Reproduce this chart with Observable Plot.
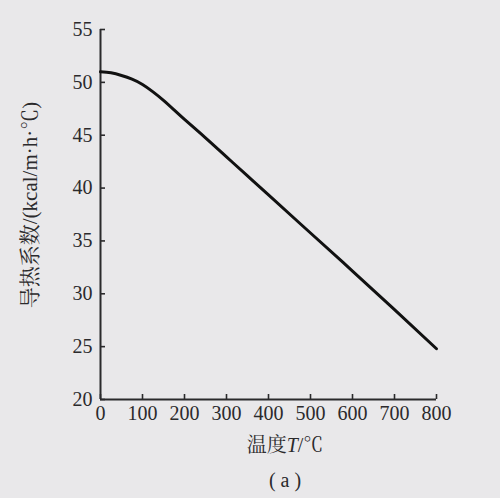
<!DOCTYPE html>
<html><head><meta charset="utf-8">
<script src="https://cdn.jsdelivr.net/npm/d3@7"></script>
<script src="https://cdn.jsdelivr.net/npm/@observablehq/plot@0.6"></script>
<style>
html,body{margin:0;padding:0;background:#e9e8ea;}
#chart{width:500px;height:498px;}
#chart svg text{font-family:"Liberation Serif","Noto Serif CJK SC","Noto Sans CJK SC",serif !important;}
</style>
</head><body><div id="chart"></div>
<script>
const temperature = [0, 25, 50, 75, 100, 125, 150, 175, 200, 250, 300, 350, 400, 500, 600, 700, 800];
const conductivity = [51.0, 50.9, 50.65, 50.3, 49.8, 49.1, 48.3, 47.4, 46.5, 44.75, 42.95, 41.15, 39.35, 35.75, 32.15, 28.5, 24.8];
const xTicks = [0, 100, 200, 300, 400, 500, 600, 700, 800];
const yTicks = [20, 25, 30, 35, 40, 45, 50, 55];
const yLabel = "导热系数/(kcal/m·h·℃)";
const xLabelMain = "温度";
const xLabelVar = "T";
const xLabelUnit = "/℃";
const caption = "( a )";

const data = temperature.map((t, i) => ({t, k: conductivity[i]}));
const font = "Liberation Serif, Noto Serif CJK SC, Noto Sans CJK SC, serif";
const ink = "#2b2a2c";

const plot = Plot.plot({
  width: 500, height: 498,
  marginLeft: 100, marginRight: 64, marginTop: 29, marginBottom: 99,
  style: {background: "transparent", fontFamily: font, fontSize: "19px", color: ink},
  x: {domain: [0, 800]},
  y: {domain: [20, 55]},
  marks: [
    Plot.axisX({ticks: xTicks, tickSize: -5, tickPadding: 11, label: null, fontSize: 20, stroke: ink, strokeWidth: 1.6}),
    Plot.axisY({ticks: yTicks, tickSize: -5, tickPadding: 13, label: null, fontSize: 20, stroke: ink, strokeWidth: 1.6}),
    Plot.ruleX([0], {stroke: ink, strokeWidth: 2}),
    Plot.ruleY([20], {stroke: ink, strokeWidth: 2}),
    Plot.line(data, {x: "t", y: "k", curve: "natural", stroke: "#111", strokeWidth: 3})
  ]
});
document.getElementById("chart").appendChild(plot);

const svg = d3.select(plot);
svg.append("text")
  .attr("transform", "translate(30,205) rotate(-90)")
  .attr("dy", "0.35em")
  .attr("text-anchor", "middle")
  .attr("font-size", 21).attr("fill", ink)
  .text(yLabel);
const xl = svg.append("text")
  .attr("x", 285).attr("y", 452)
  .attr("text-anchor", "middle")
  .attr("font-size", 20).attr("fill", ink);
xl.append("tspan").text(xLabelMain);
xl.append("tspan").attr("font-style", "italic").text(xLabelVar);
xl.append("tspan").text(xLabelUnit);
svg.append("text")
  .attr("x", 285).attr("y", 487)
  .attr("text-anchor", "middle")
  .attr("font-size", 20).attr("fill", ink)
  .text(caption);
</script>
</body></html>
